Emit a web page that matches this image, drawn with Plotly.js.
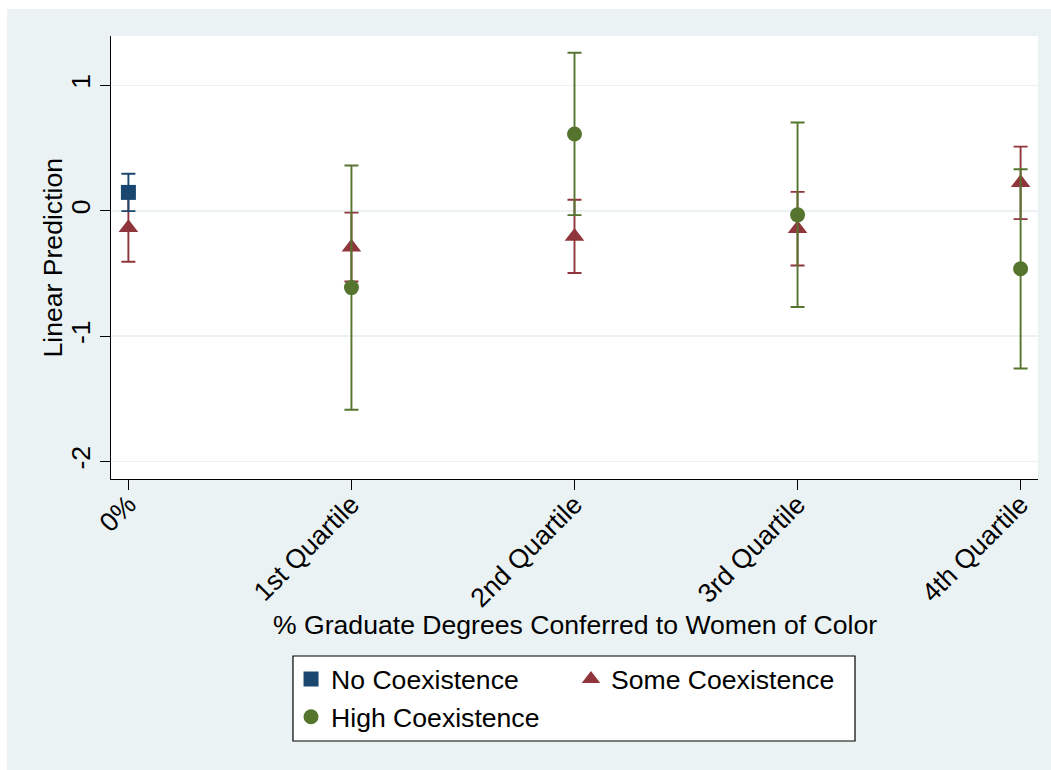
<!DOCTYPE html>
<html>
<head>
<meta charset="utf-8">
<script src="https://cdn.plot.ly/plotly-3.0.1.min.js"></script>
<style>html,body{margin:0;padding:0;background:#fff;}#chart{width:1051px;height:770px;}</style>
</head>
<body>
<div id="chart"></div>
<script>
// Categories (x axis)
const categories = ["0%", "1st Quartile", "2nd Quartile", "3rd Quartile", "4th Quartile"];

// Linear predictions and 95% CI bounds, per coexistence group
const noCoexEst   = [0.147, null, null, null, null];
const noCoexLow   = [-0.002, null, null, null, null];
const noCoexHigh  = [0.296, null, null, null, null];

const someCoexEst  = [-0.135, -0.290, -0.204, -0.143, 0.223];
const someCoexLow  = [-0.406, -0.563, -0.496, -0.436, -0.066];
const someCoexHigh = [0.136, -0.014, 0.088, 0.151, 0.512];

const highCoexEst  = [null, -0.612, 0.613, -0.032, -0.462];
const highCoexLow  = [null, -1.586, -0.034, -0.767, -1.257];
const highCoexHigh = [null, 0.361, 1.261, 0.704, 0.332];

// Y tick labels
const yTickVals = [-2, -1, 0, 1];
const yTickText = ["-2", "-1", "0", "1"];

// Titles
const xTitle = "% Graduate Degrees Conferred to Women of Color";
const yTitle = "Linear Prediction";

const FONT = "Liberation Sans, Arial, sans-serif";
const FS = 26.6;
const cNo = "#1a476f", cSome = "#90353b", cHigh = "#55752f";

function errUp(est, hi) { return est.map((v, i) => v == null ? null : hi[i] - v); }
function errDown(est, lo) { return est.map((v, i) => v == null ? null : v - lo[i]); }

function trace(name, est, lo, hi, color, symbol, size, legend, rank) {
  return {
    type: "scatter", mode: "markers", name: name,
    x: categories, y: est,
    marker: {color: color, symbol: symbol, size: size, line: {width: 0}},
    error_y: {type: "data", symmetric: false, array: errUp(est, hi), arrayminus: errDown(est, lo),
              color: color, thickness: 1.9, width: 7},
    legend: legend, legendrank: rank, hoverinfo: "skip"
  };
}

const data = [
  trace("Some Coexistence", someCoexEst, someCoexLow, someCoexHigh, cSome, "triangle-up", 17, "legend2", 2),
  trace("High Coexistence", highCoexEst, highCoexLow, highCoexHigh, cHigh, "circle", 15, "legend", 3),
  trace("No Coexistence", noCoexEst, noCoexLow, noCoexHigh, cNo, "square", 15, "legend", 1)
];

const layout = {
  width: 1051, height: 770,
  margin: {l: 111, r: 13, t: 36, b: 291, pad: 0},
  paper_bgcolor: "#ffffff", plot_bgcolor: "#ffffff",
  font: {family: FONT, size: FS, color: "#000"},
  showlegend: true,
  xaxis: {
    type: "category", range: [-0.078, 4.078], fixedrange: true,
    showgrid: false, zeroline: false,
    showline: true, linecolor: "#000", linewidth: 1.3,
    ticks: "outside", ticklen: 10, tickwidth: 1.3, tickcolor: "#000",
    tickangle: -45, ticklabelstandoff: -12, tickfont: {family: FONT, size: FS, color: "#000"}
  },
  yaxis: {
    range: [-2.138, 1.394], fixedrange: true,
    tickmode: "array", tickvals: yTickVals, ticktext: yTickText,
    showgrid: true, gridcolor: "#eaf2f3", gridwidth: 1.6, zeroline: false,
    showline: true, linecolor: "#000", linewidth: 1.3,
    ticks: "outside", ticklen: 10, tickwidth: 1.3, tickcolor: "#000",
    tickangle: -90, ticklabelstandoff: -1, tickfont: {family: FONT, size: FS, color: "#000"}
  },
  annotations: [
    {text: xTitle, xref: "paper", yref: "paper", x: 0.5, y: -0.3296, xanchor: "center", yanchor: "middle",
     showarrow: false, font: {family: FONT, size: FS, color: "#000"}},
    {text: yTitle, xref: "paper", yref: "paper", x: -0.0636, y: 0.5, xanchor: "center", yanchor: "middle",
     textangle: -90, showarrow: false, font: {family: FONT, size: FS, color: "#000"}}
  ],
  legend: {
    orientation: "v", x: 0.1942, xanchor: "left", y: -0.398, yanchor: "top",
    bgcolor: "rgba(0,0,0,0)", borderwidth: 0, font: {family: FONT, size: FS, color: "#000"},
    tracegroupgap: 0, itemclick: false
  },
  legend2: {
    orientation: "v", x: 0.4962, xanchor: "left", y: -0.398, yanchor: "top",
    bgcolor: "rgba(0,0,0,0)", borderwidth: 0, font: {family: FONT, size: FS, color: "#000"},
    itemclick: false
  },
  shapes: [
    {type: "rect", xref: "paper", yref: "paper", x0: -0.1122, x1: 1.03, y0: -0.68, y1: 1.061,
     fillcolor: "#eaf2f3", line: {width: 0}, layer: "below"},
    {type: "rect", xref: "paper", yref: "paper", x0: 0, x1: 1, y0: 0, y1: 1,
     fillcolor: "#ffffff", line: {width: 0}, layer: "below"},
    {type: "rect", xref: "paper", yref: "paper", x0: 0.1963, x1: 0.8026, y0: -0.5914, y1: -0.3995,
     fillcolor: "#ffffff", line: {color: "#000", width: 1.2}, layer: "below"}
  ]
};

Plotly.newPlot("chart", data, layout, {displayModeBar: false, staticPlot: true});
</script>
</body>
</html>
